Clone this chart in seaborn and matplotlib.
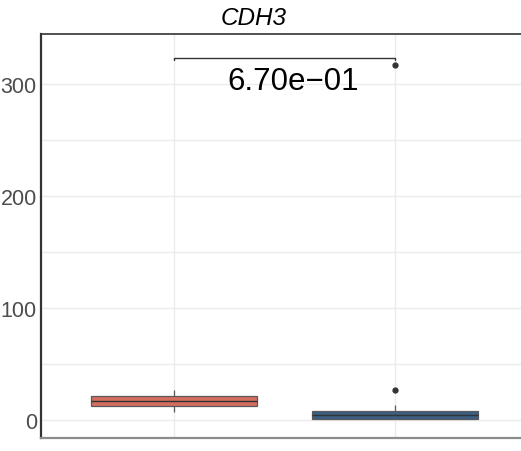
import matplotlib
matplotlib.use("Agg")
import matplotlib.pyplot as plt
import seaborn as sns
import pandas as pd
from matplotlib.ticker import MultipleLocator

# ---- data ----
groups = ["A", "B"]
group_a_values = [7.4, 12.5, 17.0, 21.4, 26.5]
group_b_values = [0.9, 1.0, 1.1, 1.2, 2.0, 3.0, 4.5, 5.5, 7.0, 8.0, 13.1, 27.0, 317.0]
box_colors = ["#E8604A", "#2D5F92"]
title_text = "CDH3"
p_label = "6.70e\u221201"
bracket_y = 323
y_ticks = [0, 100, 200, 300]

df = pd.DataFrame({
    "group": [groups[0]] * len(group_a_values) + [groups[1]] * len(group_b_values),
    "value": group_a_values + group_b_values,
})

sns.set_theme(style="white")
plt.rcParams["font.family"] = ["Liberation Sans", "DejaVu Sans"]

fig = plt.figure(figsize=(5.21, 4.52), dpi=100)
ax = fig.add_axes([41 / 521, 13 / 452, 486.6 / 521, 404 / 452])

sns.boxplot(
    data=df, x="group", y="value", hue="group", palette=box_colors,
    order=groups, hue_order=groups, legend=False, width=0.75, ax=ax,
    linecolor="#5A5A5A", linewidth=0.9, fliersize=3.5,
    flierprops=dict(marker="o", markerfacecolor="#333333", markeredgecolor="#333333"),
    capprops=dict(linewidth=0),
    medianprops=dict(color="#333333", linewidth=1.0),
    zorder=3,
)

ax.set_xlim(-0.6, 1.6)
ax.set_ylim(-16.1, 344.6)
ax.set_yticks(y_ticks)
ax.yaxis.set_minor_locator(MultipleLocator(50))
ax.grid(True, which="both", axis="y", color="#EBEBEB", linewidth=1.0, zorder=0)
ax.grid(True, which="major", axis="x", color="#EBEBEB", linewidth=1.0, zorder=0)
ax.set_axisbelow(True)

ax.set_xlabel("")
ax.set_ylabel("")
ax.set_xticklabels([])
ax.tick_params(axis="x", length=0)
ax.tick_params(axis="y", which="both", length=0, pad=3, labelsize=15.5, labelcolor="#4D4D4D")

ax.spines["right"].set_visible(False)
ax.spines["left"].set_color("#333333")
ax.spines["left"].set_linewidth(1.6)
ax.spines["top"].set_color("#333333")
ax.spines["top"].set_linewidth(1.2)
ax.spines["bottom"].set_color("#8C8C8C")
ax.spines["bottom"].set_linewidth(1.6)

# significance bracket
ax.plot([0, 0, 1, 1], [bracket_y - 2, bracket_y, bracket_y, bracket_y - 2],
        color="#333333", linewidth=1.0, zorder=4, clip_on=False)
ax.text(0.54, 295.5, p_label, ha="center", va="baseline", fontsize=22.5, color="black", zorder=5)

fig.text(254 / 521, 1 - 25 / 452, title_text, ha="center", va="baseline",
         fontsize=17.5, fontstyle="italic", color="black")

fig.savefig("out.png", dpi=100)
